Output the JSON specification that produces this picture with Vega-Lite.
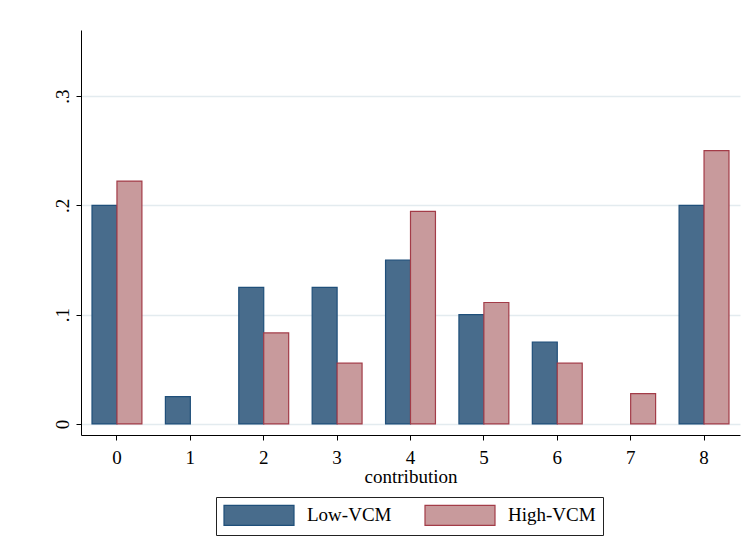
{
  "$schema": "https://vega.github.io/schema/vega-lite/v6.json",
  "width": 659,
  "height": 405,
  "autosize": {"type": "none"},
  "padding": {"left": 81, "top": 30, "right": 6, "bottom": 101},
  "background": "white",
  "config": {
    "font": "Liberation Serif",
    "view": {"stroke": null},
    "legend": {
      "orient": "none",
      "legendX": 135,
      "legendY": 467,
      "direction": "horizontal",
      "strokeColor": "#222222",
      "padding": 7,
      "symbolType": "M-1,-1H6V1H-1Z",
      "symbolSize": 400,
      "symbolStrokeWidth": 1.2,
      "symbolOpacity": 1,
      "labelFontSize": 19,
      "labelOffset": 62,
      "columnPadding": 30,
      "labelColor": "black",
      "title": null
    }
  },
  "data": {
    "values": [
      {"contribution": 0, "group": "Low-VCM", "fraction": 0.2},
      {"contribution": 1, "group": "Low-VCM", "fraction": 0.025},
      {"contribution": 2, "group": "Low-VCM", "fraction": 0.125},
      {"contribution": 3, "group": "Low-VCM", "fraction": 0.125},
      {"contribution": 4, "group": "Low-VCM", "fraction": 0.15},
      {"contribution": 5, "group": "Low-VCM", "fraction": 0.1},
      {"contribution": 6, "group": "Low-VCM", "fraction": 0.075},
      {"contribution": 8, "group": "Low-VCM", "fraction": 0.2},
      {"contribution": 0, "group": "High-VCM", "fraction": 0.2222},
      {"contribution": 2, "group": "High-VCM", "fraction": 0.0833},
      {"contribution": 3, "group": "High-VCM", "fraction": 0.0556},
      {"contribution": 4, "group": "High-VCM", "fraction": 0.1944},
      {"contribution": 5, "group": "High-VCM", "fraction": 0.1111},
      {"contribution": 6, "group": "High-VCM", "fraction": 0.0556},
      {"contribution": 7, "group": "High-VCM", "fraction": 0.0278},
      {"contribution": 8, "group": "High-VCM", "fraction": 0.25}
    ]
  },
  "mark": {"type": "bar", "strokeWidth": 1.2, "opacity": 1},
  "encoding": {
    "x": {
      "field": "contribution",
      "type": "ordinal",
      "scale": {"domain": [0, 1, 2, 3, 4, 5, 6, 7, 8], "paddingInner": 0.32, "paddingOuter": 0.15},
      "axis": {
        "labelAngle": 0,
        "title": "contribution",
        "labelFontSize": 19,
        "titleFontSize": 19,
        "titleFontWeight": "normal",
        "tickSize": 5,
        "labelPadding": 8,
        "titlePadding": 0,
        "domainColor": "black",
        "tickColor": "black",
        "labelColor": "black",
        "titleColor": "black",
        "grid": false
      }
    },
    "xOffset": {
      "field": "group",
      "sort": ["Low-VCM", "High-VCM"],
      "scale": {"paddingInner": 0, "paddingOuter": 0}
    },
    "y": {
      "field": "fraction",
      "type": "quantitative",
      "scale": {"domain": [-0.0101, 0.3604], "nice": false, "zero": false},
      "axis": {
        "values": [0, 0.1, 0.2, 0.3],
        "labelExpr": "datum.value === 0 ? '0' : '.' + format(datum.value * 10, 'd')",
        "title": null,
        "labelAngle": -90,
        "labelAlign": "center",
        "labelBaseline": "bottom",
        "labelFontSize": 19,
        "labelPadding": 4,
        "tickSize": 5,
        "domainColor": "black",
        "tickColor": "black",
        "labelColor": "black",
        "grid": true,
        "gridColor": "#e3ebef",
        "gridWidth": 1.3
      }
    },
    "color": {
      "field": "group",
      "type": "nominal",
      "sort": ["Low-VCM", "High-VCM"],
      "scale": {"domain": ["Low-VCM", "High-VCM"], "range": ["#486c8c", "#c89a9c"]}
    },
    "stroke": {
      "field": "group",
      "type": "nominal",
      "sort": ["Low-VCM", "High-VCM"],
      "scale": {"domain": ["Low-VCM", "High-VCM"], "range": ["#1f4f7a", "#a33c48"]}
    }
  }
}
